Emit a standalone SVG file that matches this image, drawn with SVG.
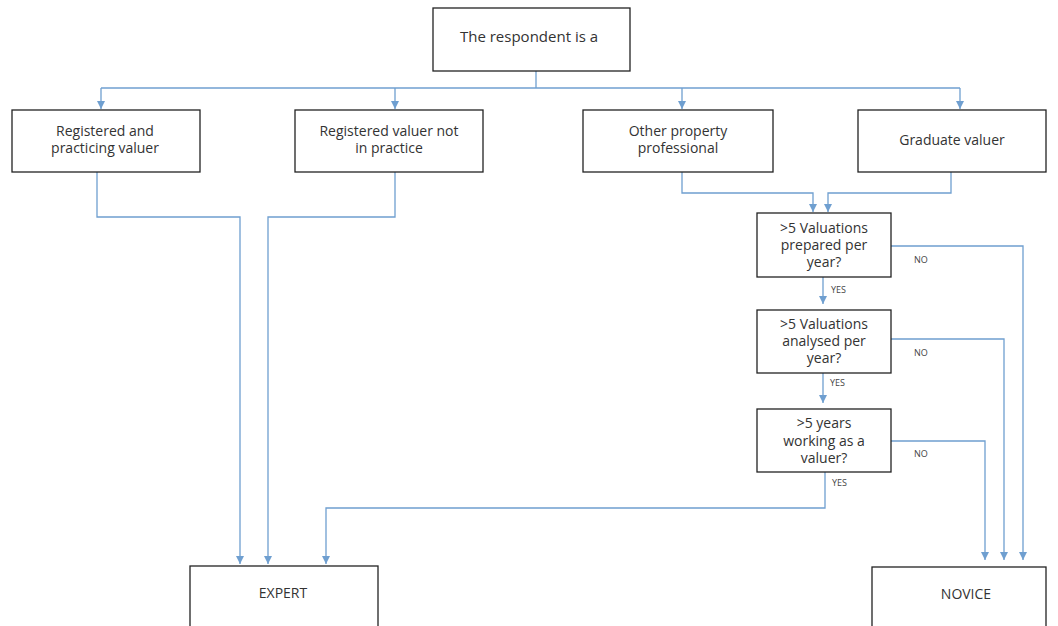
<svg xmlns="http://www.w3.org/2000/svg" width="1058" height="626" viewBox="0 0 1058 626">
<style>
.box{fill:#fff;stroke:#222;stroke-width:1.3}
.t{font-family:"Open Sans","DejaVu Sans",sans-serif;font-size:14px;fill:#333;text-anchor:middle}
.s{font-family:"Open Sans","DejaVu Sans",sans-serif;font-size:9px;fill:#444}
.c{fill:none;stroke:#6f9fd0;stroke-width:1.3}
</style>
<defs>
<marker id="a" viewBox="0 0 10 10" refX="10" refY="5" markerWidth="8" markerHeight="8" markerUnits="userSpaceOnUse" orient="auto">
<path d="M0,0 L10,5 L0,10 z" fill="#6f9fd0"/>
</marker>
</defs>
<rect width="1058" height="626" fill="#fff"/>
<g id="connectors">
<path class="c" d="M536,71 V88"/>
<path class="c" d="M101,88 H960"/>
<path class="c" d="M101,88 V109" marker-end="url(#a)"/>
<path class="c" d="M395,88 V109" marker-end="url(#a)"/>
<path class="c" d="M682,88 V109" marker-end="url(#a)"/>
<path class="c" d="M960,88 V109" marker-end="url(#a)"/>
<path class="c" d="M97,172 V217 H240 V564" marker-end="url(#a)"/>
<path class="c" d="M395,172 V217 H268 V564" marker-end="url(#a)"/>
<path class="c" d="M682,172 V193 H813 V212" marker-end="url(#a)"/>
<path class="c" d="M951,172 V193 H828 V212" marker-end="url(#a)"/>
<path class="c" d="M823,277 V304" marker-end="url(#a)"/>
<path class="c" d="M823,373 V403" marker-end="url(#a)"/>
<path class="c" d="M825,472 V508 H326 V564" marker-end="url(#a)"/>
<path class="c" d="M891,246 H1023 V560" marker-end="url(#a)"/>
<path class="c" d="M891,339 H1004 V560" marker-end="url(#a)"/>
<path class="c" d="M891,441 H985 V560" marker-end="url(#a)"/>
</g>
<g id="respondent">
<rect class="box" x="433" y="8" width="197" height="63"/>
<text class="t" x="529" y="42" style="font-size:15px">The respondent is a</text>
</g>
<g id="registered-practicing">
<rect class="box" x="12" y="110" width="188" height="62"/>
<text class="t" x="105" y="136">Registered and</text>
<text class="t" x="105" y="153">practicing valuer</text>
</g>
<g id="registered-not-practice">
<rect class="box" x="295" y="110" width="188" height="62"/>
<text class="t" x="389" y="136">Registered valuer not</text>
<text class="t" x="389" y="153">in practice</text>
</g>
<g id="other-professional">
<rect class="box" x="583" y="110" width="190" height="62"/>
<text class="t" x="678" y="136">Other property</text>
<text class="t" x="678" y="153">professional</text>
</g>
<g id="graduate">
<rect class="box" x="858" y="110" width="188" height="62"/>
<text class="t" x="952" y="145">Graduate valuer</text>
</g>
<g id="q-prepared">
<rect class="box" x="757" y="213" width="134" height="64"/>
<text class="t" x="824" y="233">&gt;5 Valuations</text>
<text class="t" x="824" y="250">prepared per</text>
<text class="t" x="824" y="267">year?</text>
</g>
<g id="q-analysed">
<rect class="box" x="757" y="310" width="134" height="63"/>
<text class="t" x="824" y="329">&gt;5 Valuations</text>
<text class="t" x="824" y="346">analysed per</text>
<text class="t" x="824" y="363">year?</text>
</g>
<g id="q-years">
<rect class="box" x="757" y="409" width="134" height="63"/>
<text class="t" x="824" y="428">&gt;5 years</text>
<text class="t" x="824" y="446">working as a</text>
<text class="t" x="824" y="463">valuer?</text>
</g>
<g id="labels">
<text class="s" x="831" y="293">YES</text>
<text class="s" x="830" y="386">YES</text>
<text class="s" x="832" y="486">YES</text>
<text class="s" x="914" y="263">NO</text>
<text class="s" x="914" y="356">NO</text>
<text class="s" x="914" y="457">NO</text>
</g>
<g id="expert">
<rect class="box" x="190" y="566" width="188" height="80"/>
<text class="t" x="283" y="598">EXPERT</text>
</g>
<g id="novice">
<rect class="box" x="872" y="567" width="174" height="80"/>
<text class="t" x="966" y="599">NOVICE</text>
</g>
</svg>
